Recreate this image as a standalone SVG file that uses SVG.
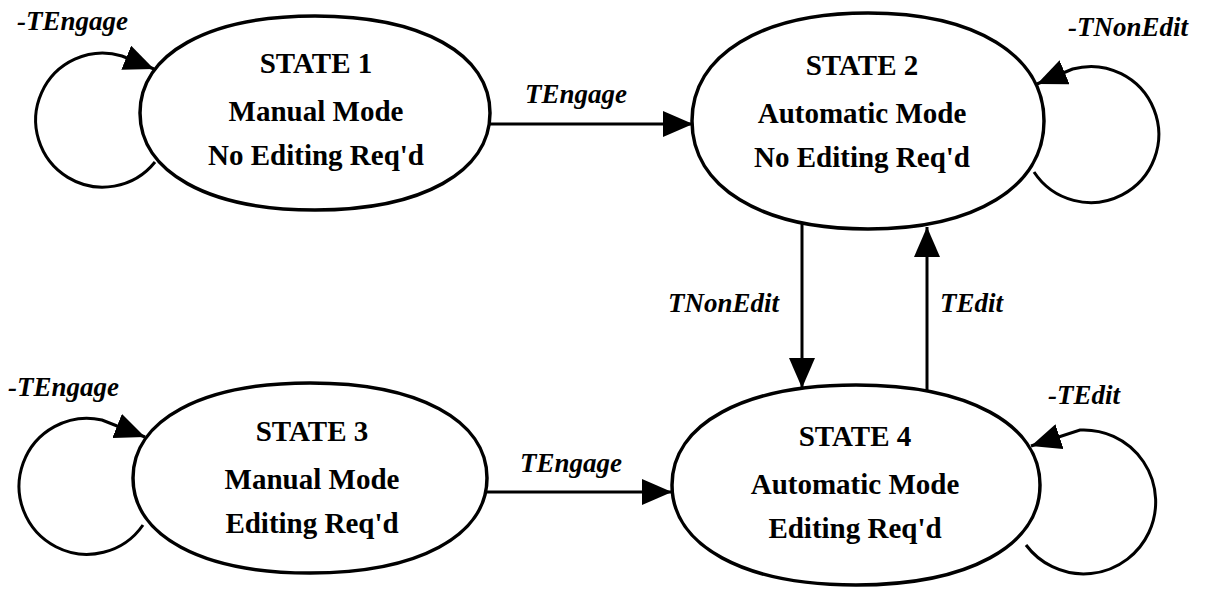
<svg xmlns="http://www.w3.org/2000/svg" width="1205" height="590" viewBox="0 0 1205 590">
<style>
.st{fill:#fff;stroke:#000;stroke-width:3.5}
.ln{fill:none;stroke:#000;stroke-width:3}
.t{font-family:"Liberation Serif","Times New Roman",serif;font-weight:bold;font-size:29px;text-anchor:middle;fill:#000}
.lb{font-family:"Liberation Serif","Times New Roman",serif;font-weight:bold;font-style:italic;font-size:27px;fill:#000}
</style>
<defs>
<marker id="ah" markerUnits="userSpaceOnUse" markerWidth="30" markerHeight="26" viewBox="0 0 30 26" refX="30" refY="13" orient="auto">
<path d="M0,0 L30,13 L0,26 z" fill="#000"/>
</marker>
</defs>
<rect width="1205" height="590" fill="#fff"/>
<g id="connectors">
<path class="ln" d="M155,162 A67,67 0 1 1 122,56 L154,69" marker-end="url(#ah)"/>
<path class="ln" d="M1034,172 A68,68 0 1 0 1072.6,69 L1037,84" marker-end="url(#ah)"/>
<path class="ln" d="M143,525 A68,68 0 1 1 102,420 L145,437" marker-end="url(#ah)"/>
<path class="ln" d="M1026,545 A72,72 0 1 0 1080,430 L1031,446" marker-end="url(#ah)"/>
<path class="ln" d="M486,124 L693,124" marker-end="url(#ah)"/>
<path class="ln" d="M482,492 L672,492" marker-end="url(#ah)"/>
<path class="ln" d="M802,223 L802,388" marker-end="url(#ah)"/>
<path class="ln" d="M927,390 L927,227" marker-end="url(#ah)"/>
<text class="lb" x="17" y="30">-TEngage</text>
<text class="lb" x="525" y="103">TEngage</text>
<text class="lb" x="1068" y="36">-TNonEdit</text>
<text class="lb" x="668" y="312">TNonEdit</text>
<text class="lb" x="940" y="312">TEdit</text>
<text class="lb" x="8" y="396">-TEngage</text>
<text class="lb" x="520" y="472">TEngage</text>
<text class="lb" x="1048" y="404">-TEdit</text>
</g>
<g id="state1">
<path class="st" d="M140,113 C140,54 208,16 315,16 C422,16 490,54 490,113 C490,172 422,210 315,210 C208,210 140,172 140,113Z"/>
<text class="t" x="316" y="73">STATE 1</text>
<text class="t" x="316" y="121">Manual Mode</text>
<text class="t" x="316" y="165">No Editing Req'd</text>
</g>
<g id="state2">
<path class="st" d="M692,121 C692,55 761,13 868,13 C975,13 1044,55 1044,121 C1044,187 975,229 868,229 C761,229 692,187 692,121Z"/>
<text class="t" x="862" y="75">STATE 2</text>
<text class="t" x="862" y="123">Automatic Mode</text>
<text class="t" x="862" y="167">No Editing Req'd</text>
</g>
<g id="state3">
<path class="st" d="M133,478 C133,420 202,383 310,383 C418,383 487,420 487,478 C487,536 418,573 310,573 C202,573 133,536 133,478Z"/>
<text class="t" x="312" y="441">STATE 3</text>
<text class="t" x="312" y="489">Manual Mode</text>
<text class="t" x="312" y="533">Editing Req'd</text>
</g>
<g id="state4">
<path class="st" d="M672,485 C672,424 744,385 856,385 C968,385 1040,424 1040,485 C1040,546 968,585 856,585 C744,585 672,546 672,485Z"/>
<text class="t" x="855" y="446">STATE 4</text>
<text class="t" x="855" y="494">Automatic Mode</text>
<text class="t" x="855" y="538">Editing Req'd</text>
</g>
</svg>
